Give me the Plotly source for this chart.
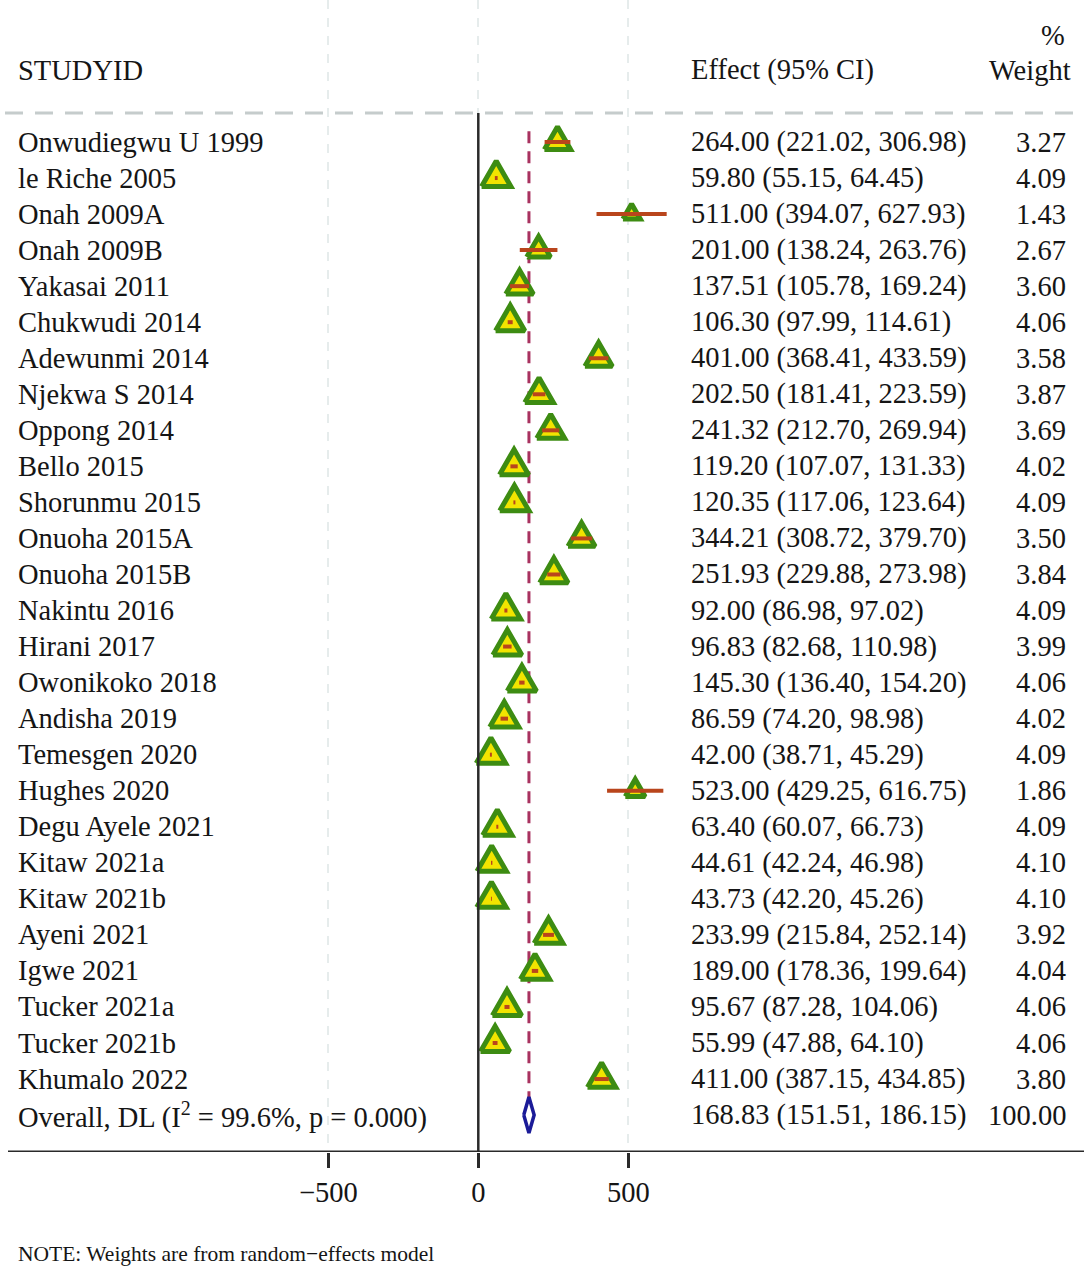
import math
import plotly.graph_objects as go

# ---------------- data ----------------
studies = ["Onwudiegwu U 1999", "le Riche 2005", "Onah 2009A", "Onah 2009B", "Yakasai 2011",
           "Chukwudi 2014", "Adewunmi 2014", "Njekwa S 2014", "Oppong 2014", "Bello 2015",
           "Shorunmu 2015", "Onuoha 2015A", "Onuoha 2015B", "Nakintu 2016", "Hirani 2017",
           "Owonikoko 2018", "Andisha 2019", "Temesgen 2020", "Hughes 2020", "Degu Ayele 2021",
           "Kitaw 2021a", "Kitaw 2021b", "Ayeni 2021", "Igwe 2021", "Tucker 2021a",
           "Tucker 2021b", "Khumalo 2022"]
effects = [264.00, 59.80, 511.00, 201.00, 137.51, 106.30, 401.00, 202.50, 241.32, 119.20,
           120.35, 344.21, 251.93, 92.00, 96.83, 145.30, 86.59, 42.00, 523.00, 63.40,
           44.61, 43.73, 233.99, 189.00, 95.67, 55.99, 411.00]
lower = [221.02, 55.15, 394.07, 138.24, 105.78, 97.99, 368.41, 181.41, 212.70, 107.07,
         117.06, 308.72, 229.88, 86.98, 82.68, 136.40, 74.20, 38.71, 429.25, 60.07,
         42.24, 42.20, 215.84, 178.36, 87.28, 47.88, 387.15]
upper = [306.98, 64.45, 627.93, 263.76, 169.24, 114.61, 433.59, 223.59, 269.94, 131.33,
         123.64, 379.70, 273.98, 97.02, 110.98, 154.20, 98.98, 45.29, 616.75, 66.73,
         46.98, 45.26, 252.14, 199.64, 104.06, 64.10, 434.85]
weights = [3.27, 4.09, 1.43, 2.67, 3.60, 4.06, 3.58, 3.87, 3.69, 4.02,
           4.09, 3.50, 3.84, 4.09, 3.99, 4.06, 4.02, 4.09, 1.86, 4.09,
           4.10, 4.10, 3.92, 4.04, 4.06, 4.06, 3.80]

overall_label = "Overall, DL (I<sup>2</sup> = 99.6%, p = 0.000)"
overall_effect = 168.83
overall_lower = 151.51
overall_upper = 186.15
overall_weight = 100.00

x_ticks = [-500, 0, 500]
x_tick_labels = ["\u2212500", "0", "500"]
header_study = "STUDYID"
header_effect = "Effect (95% CI)"
header_pct = "%"
header_weight = "Weight"
note_text = "NOTE: Weights are from random\u2212effects model"

# ---------------- layout constants ----------------
W, H = 1084, 1266
PX_PER_UNIT = 0.3          # x pixels per data unit
X0_PX = 478.3              # pixel of x = 0
ROW0_PX = 142.0            # pixel of first row
ROW_PX = 36.04             # pixels per row
AXIS_PX = 1152.0           # pixel of bottom axis line

x_range = [-X0_PX / PX_PER_UNIT, (W - X0_PX) / PX_PER_UNIT]
row_top = (0 - ROW0_PX) / ROW_PX
row_bot = (AXIS_PX - ROW0_PX) / ROW_PX

FONT = "Liberation Serif, Times New Roman, serif"
FS = 28.5
TXT = "#151515"

n = len(studies)
rows = list(range(n))
overall_row = n

fig = go.Figure()

# triangles (polygons sized by weight)
tx, ty = [], []
for r, e, w in zip(rows, effects, weights):
    side = 14.5 * math.sqrt(w)          # px
    h = side * math.sqrt(3) / 2
    dx = (side / 2) / PX_PER_UNIT
    apex = r - (2 * h / 3) / ROW_PX
    base = r + (h / 3) / ROW_PX
    tx += [e - dx, e + dx, e, e - dx, None]
    ty += [base, base, apex, base, None]
fig.add_trace(go.Scatter(x=tx, y=ty, mode="lines", fill="toself",
                         fillcolor="#f2e400", line=dict(color="#3d8c12", width=5),
                         hoverinfo="skip", showlegend=False))

# CI lines
cx, cy = [], []
for r, lo, hi in zip(rows, lower, upper):
    cx += [lo, hi, None]
    cy += [r, r, None]
fig.add_trace(go.Scatter(x=cx, y=cy, mode="lines", line=dict(color="#b9451c", width=4),
                         hoverinfo="skip", showlegend=False))

# overall diamond
fig.add_trace(go.Scatter(
    x=[overall_lower, overall_effect, overall_upper, overall_effect, overall_lower],
    y=[overall_row, overall_row - 0.5, overall_row, overall_row + 0.5, overall_row],
    mode="lines", line=dict(color="#1b1b98", width=3.5),
    hoverinfo="skip", showlegend=False))

shapes = []
dash_row = (113 - ROW0_PX) / ROW_PX
shapes.append(dict(type="line", xref="paper", yref="y", x0=5 / W, x1=1, y0=dash_row, y1=dash_row,
                   line=dict(color="#c5cccc", width=3, dash="18px,12px"), layer="below"))
shapes.append(dict(type="line", xref="x", yref="y", x0=0, x1=0, y0=dash_row, y1=row_bot,
                   line=dict(color="#2a2a2a", width=2.5)))
shapes.append(dict(type="line", xref="x", yref="y", x0=overall_effect, x1=overall_effect,
                   y0=-0.3, y1=overall_row - 0.3,
                   line=dict(color="#a8325f", width=3, dash="12px,8px"), layer="below"))
shapes.append(dict(type="line", xref="paper", yref="y", x0=8 / W, x1=1, y0=row_bot, y1=row_bot,
                   line=dict(color="#2a2a2a", width=3)))
fig.update_layout(shapes=shapes)

ann = []
def add_text(text, xpx, row, anchor, size=FS):
    ann.append(dict(text=text, xref="paper", yref="y", x=xpx / W, y=row, xanchor=anchor,
                    yanchor="middle", showarrow=False, font=dict(family=FONT, size=size, color=TXT)))

for r, s, e, lo, hi, w in zip(rows, studies, effects, lower, upper, weights):
    add_text(s, 16, r, "left")
    add_text(f"{e:.2f} ({lo:.2f}, {hi:.2f})", 689, r, "left")
    add_text(f"{w:.2f}", 1068, r, "right")

add_text(overall_label, 16, overall_row, "left")
add_text(f"{overall_effect:.2f} ({overall_lower:.2f}, {overall_upper:.2f})", 689, overall_row, "left")
add_text(f"{overall_weight:.2f}", 1068, overall_row, "right")

head_row = (70 - ROW0_PX) / ROW_PX
add_text(header_study, 16, head_row, "left")
add_text(header_effect, 689, head_row, "left")
add_text(header_pct, 1067, (35 - ROW0_PX) / ROW_PX, "right")
add_text(header_weight, 1073, head_row, "right")

ann.append(dict(text=note_text, xref="paper", yref="paper", x=16 / W, y=(H - 1254) / H,
                xanchor="left", yanchor="middle", showarrow=False,
                font=dict(family=FONT, size=21.5, color=TXT)))
fig.update_layout(annotations=ann)

fig.update_layout(
    width=W, height=H,
    margin=dict(l=0, r=0, t=0, b=0, autoexpand=False),
    paper_bgcolor="white", plot_bgcolor="white",
    xaxis=dict(range=x_range, domain=[0, 1], tickvals=x_ticks, ticktext=x_tick_labels,
               ticks="outside", ticklen=15, tickwidth=3, tickcolor="#2a2a2a",
               showgrid=True, gridcolor="#e6ecec", gridwidth=2, griddash="dash",
               zeroline=False, showline=False,
               tickfont=dict(family=FONT, size=FS, color=TXT), fixedrange=True),
    yaxis=dict(range=[row_bot, row_top], domain=[(H - AXIS_PX) / H, 1],
               showgrid=False, zeroline=False, showticklabels=False, ticks="",
               showline=False, fixedrange=True),
    showlegend=False,
)

fig.write_html("out.html", config={"displayModeBar": False},
               post_script="document.body.style.margin='0';document.body.style.overflow='hidden';")
